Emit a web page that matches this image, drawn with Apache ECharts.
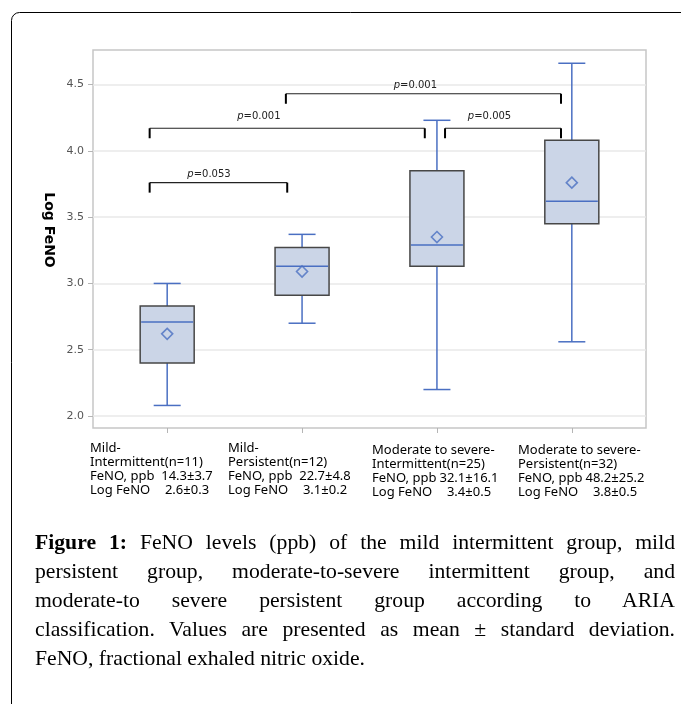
<!DOCTYPE html>
<html>
<head>
<meta charset="utf-8">
<script src="https://cdn.jsdelivr.net/npm/echarts@6/dist/echarts.min.js"></script>
<style>
html, body { margin: 0; padding: 0; background: #fff; }
#wrap { position: relative; width: 681px; height: 704px; overflow: hidden; }
#main { position: absolute; left: 0; top: 0; width: 681px; height: 704px; }
#caption {
  position: absolute; left: 35px; top: 528px; width: 640px;
  font-family: "Liberation Serif", serif; font-size: 21.7px; line-height: 29px; color: #000;
}
#caption div { text-align: justify; text-align-last: justify; white-space: nowrap; }
#caption div.last { text-align-last: left; }
</style>
</head>
<body>
<div id="wrap">
  <div id="main"></div>
  <div id="caption">
    <div><b>Figure 1:</b> FeNO levels (ppb) of the mild intermittent group, mild</div>
    <div>persistent group, moderate-to-severe intermittent group, and</div>
    <div>moderate-to severe persistent group according to ARIA</div>
    <div>classification. Values are presented as mean ± standard deviation.</div>
    <div class="last">FeNO, fractional exhaled nitric oxide.</div>
  </div>
</div>
<script>
// groups (x categories) and summary rows under the axis
var groupNames = ['Mild-\nIntermittent(n=11)', 'Mild-\nPersistent(n=12)',
  'Moderate to severe-\nIntermittent(n=25)', 'Moderate to severe-\nPersistent(n=32)'];
var fenoPpb = ['14.3±3.7', '22.7±4.8', '32.1±16.1', '48.2±25.2'];
var logFeno = ['2.6±0.3', '3.1±0.2', '3.4±0.5', '3.8±0.5'];

// box plot values (Log FeNO)
var whiskerLow = [2.08, 2.70, 2.20, 2.56];
var q1 = [2.40, 2.91, 3.13, 3.45];
var median = [2.71, 3.13, 3.29, 3.62];
var q3 = [2.83, 3.27, 3.85, 4.08];
var whiskerHigh = [3.00, 3.37, 4.23, 4.66];
var means = [2.62, 3.09, 3.35, 3.76];

var yTicks = [2.0, 2.5, 3.0, 3.5, 4.0, 4.5];

// significance brackets: ends in group units, level and label in Log FeNO units
var brackets = [
  { from: -0.13, to: 0.89, y: 3.76, labelX: 0.31, labelY: 3.82, p: '0.053' },
  { from: -0.13, to: 1.91, y: 4.17, labelX: 0.68, labelY: 4.26, p: '0.001' },
  { from: 2.06, to: 2.92, y: 4.17, labelX: 2.39, labelY: 4.26, p: '0.005' },
  { from: 0.88, to: 2.92, y: 4.43, labelX: 1.84, labelY: 4.49, p: '0.001' }
];

var BLUE = '#4a6fc2';
var FILL = '#cbd5e7';
var BOX_W = 54;
var CAP_W = 27;

var chart = echarts.init(document.getElementById('main'));

function renderBox(params, api) {
  var i = api.value(0);
  var x = api.coord([i, 0])[0];
  var yLo = api.coord([i, api.value(1)])[1];
  var yQ1 = api.coord([i, api.value(2)])[1];
  var yMed = api.coord([i, api.value(3)])[1];
  var yQ3 = api.coord([i, api.value(4)])[1];
  var yHi = api.coord([i, api.value(5)])[1];
  var line = { stroke: BLUE, lineWidth: 1.5 };
  return {
    type: 'group',
    children: [
      { type: 'line', shape: { x1: x, y1: yLo, x2: x, y2: yQ1 }, style: line },
      { type: 'line', shape: { x1: x, y1: yQ3, x2: x, y2: yHi }, style: line },
      { type: 'line', shape: { x1: x - CAP_W / 2, y1: yLo, x2: x + CAP_W / 2, y2: yLo }, style: line },
      { type: 'line', shape: { x1: x - CAP_W / 2, y1: yHi, x2: x + CAP_W / 2, y2: yHi }, style: line },
      { type: 'rect', shape: { x: x - BOX_W / 2, y: yQ3, width: BOX_W, height: yQ1 - yQ3 },
        style: { fill: FILL, stroke: '#474747', lineWidth: 1.5 } },
      { type: 'line', shape: { x1: x - BOX_W / 2 + 1, y1: yMed, x2: x + BOX_W / 2 - 1, y2: yMed }, style: line }
    ]
  };
}

function renderBracket(params, api) {
  var b = brackets[params.dataIndex];
  var p0 = api.coord([b.from, b.y]);
  var p1 = api.coord([b.to, b.y]);
  var lp = api.coord([b.labelX, b.labelY]);
  return {
    type: 'group',
    children: [
      { type: 'line', shape: { x1: p0[0], y1: p0[1], x2: p1[0], y2: p1[1] },
        style: { stroke: '#222', lineWidth: 1.2 } },
      { type: 'line', shape: { x1: p0[0], y1: p0[1], x2: p0[0], y2: p0[1] + 10 },
        style: { stroke: '#000', lineWidth: 2 } },
      { type: 'line', shape: { x1: p1[0], y1: p1[1], x2: p1[0], y2: p1[1] + 10 },
        style: { stroke: '#000', lineWidth: 2 } },
      { type: 'text', x: lp[0], y: lp[1],
        style: {
          text: '{i|p}=' + b.p, align: 'center', verticalAlign: 'middle',
          font: '10px "DejaVu Sans"', fill: '#222',
          rich: { i: { fontStyle: 'italic', fontFamily: 'DejaVu Sans', fontSize: 10, fill: '#222' } }
        } }
    ]
  };
}

// labels under the x axis
var labelLeft = [90, 228, 372, 518];
var labelTop = [441, 441, 443, 443];
var labelGraphics = groupNames.map(function (name, i) {
  return {
    type: 'text', left: labelLeft[i], top: labelTop[i],
    style: {
      text: name + '\n{k|FeNO, ppb}{v|' + fenoPpb[i] + '}\n{k|Log FeNO}{v|' + logFeno[i] + '}',
      font: '13px "Noto Sans"', fill: '#000', lineHeight: 14,
      rich: {
        k: { width: 67, fontFamily: 'Noto Sans', fontSize: 13, lineHeight: 14, fill: '#000' },
        v: { width: 60, align: 'center', fontFamily: 'Noto Sans', fontSize: 13, lineHeight: 14, fill: '#000' }
      }
    }
  };
});

var option = {
  animation: false,
  grid: {
    left: 93, right: 35, top: 50, bottom: 276,
    show: true, borderColor: '#c6c6c6', borderWidth: 1.5, backgroundColor: '#fff'
  },
  xAxis: {
    type: 'value', min: -0.55, max: 3.55,
    axisLine: { show: false, onZero: false },
    axisTick: { show: true, customValues: [0, 1, 2, 3], length: 5, lineStyle: { color: '#b5b5b5' } },
    axisLabel: { show: false },
    splitLine: { show: false }
  },
  yAxis: {
    type: 'value', min: 1.91, max: 4.76,
    name: 'Log FeNO', nameLocation: 'middle', nameRotate: -90, nameGap: 37,
    nameTextStyle: { fontFamily: 'DejaVu Sans', fontSize: 14, fontWeight: 'bold', color: '#000', padding: [0, 18, 0, 0] },
    axisLine: { show: false, onZero: false },
    axisTick: { show: true, customValues: yTicks, length: 5, lineStyle: { color: '#b5b5b5' } },
    axisLabel: {
      customValues: yTicks, margin: 9, color: '#555', fontFamily: 'DejaVu Sans', fontSize: 11,
      formatter: function (v) { return v.toFixed(1); }
    },
    splitLine: { show: true, lineStyle: { color: '#e8e8e8', width: 1.5 } }
  },
  graphic: [
    { type: 'rect', shape: { x: 11.5, y: 12.5, width: 760, height: 800, r: 8 },
      style: { fill: 'none', stroke: '#000', lineWidth: 1 }, silent: true }
  ].concat(labelGraphics),
  series: [
    {
      type: 'custom', renderItem: renderBox,
      encode: { x: 0, y: [1, 2, 3, 4, 5] },
      data: groupNames.map(function (g, i) {
        return [i, whiskerLow[i], q1[i], median[i], q3[i], whiskerHigh[i]];
      }),
      z: 2
    },
    {
      type: 'scatter', symbol: 'diamond', symbolSize: 11,
      itemStyle: { color: 'rgba(0,0,0,0)', borderColor: BLUE, borderWidth: 1.6 },
      data: means.map(function (m, i) { return [i, m]; }),
      z: 3
    },
    {
      type: 'custom', renderItem: renderBracket,
      encode: { x: [0, 1], y: 2 },
      data: brackets.map(function (b) { return [b.from, b.to, b.y]; }),
      z: 4
    }
  ]
};
chart.setOption(option);
</script>
</body>
</html>
